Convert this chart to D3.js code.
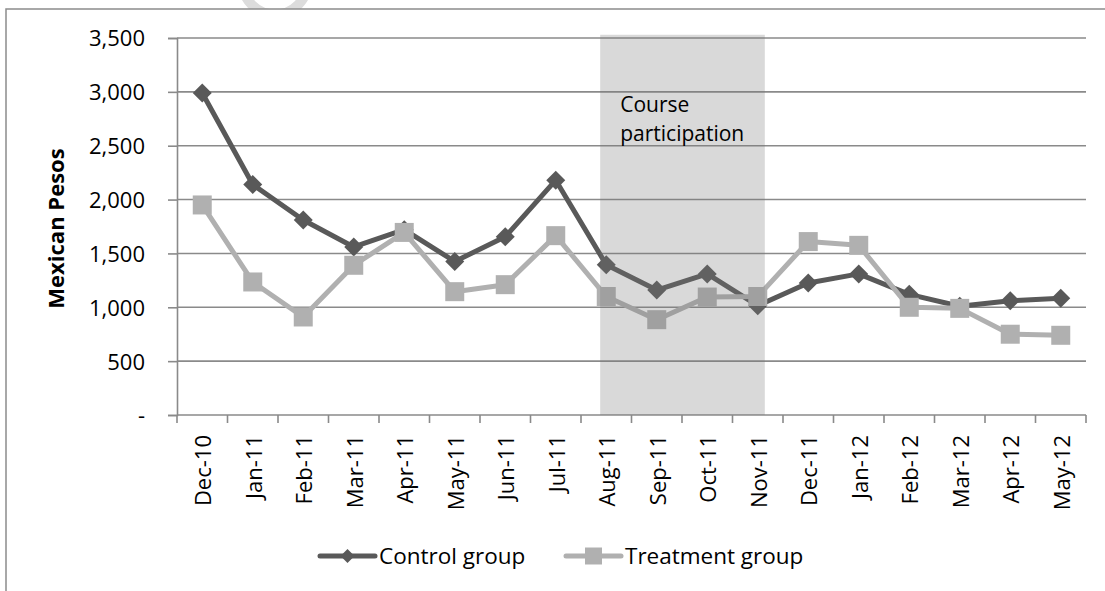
<!DOCTYPE html>
<html><head><meta charset="utf-8">
<script src="https://cdn.jsdelivr.net/npm/d3@7"></script>
<style>
body{margin:0;background:#fff}
svg{display:block}
text{font-family:"Open Sans",sans-serif;fill:#000}
</style>
</head><body>
<svg id="chart" width="1105" height="591"></svg>
<script>
// ---- data ----
const categories = ["Dec-10","Jan-11","Feb-11","Mar-11","Apr-11","May-11","Jun-11","Jul-11","Aug-11","Sep-11","Oct-11","Nov-11","Dec-11","Jan-12","Feb-12","Mar-12","Apr-12","May-12"];
const controlGroup = [2990,2140,1810,1560,1720,1425,1655,2180,1395,1160,1310,1015,1225,1310,1120,1010,1060,1085];
const treatmentGroup = [1950,1235,910,1390,1695,1145,1210,1665,1100,885,1095,1100,1610,1575,1000,990,750,740];
const yTicks = [0,500,1000,1500,2000,2500,3000,3500];
const seriesNames = ["Control group","Treatment group"];
const yTitle = "Mexican Pesos";
const courseLabel = ["Course","participation"];
const courseSpan = [8.38, 11.64];   // in category units
const courseTop = 3530;

// ---- layout ----
const W = 1105, H = 591;
const L = 177, R = 1086, T = 38, B = 415;
const svg = d3.select("#chart");

const x = d3.scaleBand().domain(categories).range([L, R]).padding(0);
const xi = d3.scaleLinear().domain([0, categories.length]).range([L, R]);
const y = d3.scaleLinear().domain([0, 3500]).range([B, T]);

// watermark ring (mostly hidden behind chart area)
svg.append("circle").attr("cx", 275).attr("cy", -18).attr("r", 32.5)
  .attr("fill", "none").attr("stroke", "#dcdcdc").attr("stroke-width", 10);

// chart frame
svg.append("rect").attr("x", 6).attr("y", 9).attr("width", W + 20).attr("height", H + 20)
  .attr("fill", "#fff").attr("stroke", "#8c8c8c").attr("stroke-width", 1.5);

// gridlines
svg.append("g").selectAll("line").data(yTicks.filter(d => d > 0)).join("line")
  .attr("x1", L).attr("x2", R).attr("y1", d => y(d)).attr("y2", d => y(d))
  .attr("stroke", "#8a8a8a").attr("stroke-width", 1.6);

// y axis
const yAxis = svg.append("g").attr("transform", `translate(${L},0)`)
  .call(d3.axisLeft(y).tickValues(yTicks).tickSize(9).tickPadding(23)
    .tickFormat(d => d === 0 ? "-" : d3.format(",")(d)));
yAxis.select(".domain").attr("stroke", "#8a8a8a").attr("stroke-width", 1.6);
yAxis.selectAll(".tick line").attr("stroke", "#8a8a8a").attr("stroke-width", 1.6);
yAxis.selectAll(".tick text").attr("font-size", 22).attr("dy", "0.36em")
  .style("font-family", '"Open Sans",sans-serif').attr("fill", "#000");

// x axis line and boundary ticks
const xAxis = svg.append("g");
xAxis.append("line").attr("x1", L).attr("x2", R).attr("y1", B).attr("y2", B)
  .attr("stroke", "#8a8a8a").attr("stroke-width", 1.6);
xAxis.selectAll("line.tk").data(d3.range(categories.length + 1)).join("line")
  .attr("class", "tk")
  .attr("x1", d => xi(d)).attr("x2", d => xi(d)).attr("y1", B).attr("y2", B + 8)
  .attr("stroke", "#8a8a8a").attr("stroke-width", 1.6);
xAxis.selectAll("text").data(categories).join("text")
  .attr("transform", d => `translate(${x(d) + x.bandwidth() / 2 + 1},${B + 20}) rotate(-90)`)
  .attr("text-anchor", "end").attr("dy", "0.36em").attr("font-size", 22)
  .text(d => d);

// y title
svg.append("text")
  .attr("transform", `translate(56,${(T + B) / 2 + 2}) rotate(-90)`)
  .attr("text-anchor", "middle").attr("dy", "0.36em")
  .attr("font-size", 22).attr("font-weight", "bold").text(yTitle);

// marker shapes
const diamondPath = (cx, cy, r) => `M${cx},${cy - r}L${cx + r},${cy}L${cx},${cy + r}L${cx - r},${cy}Z`;
const squarePath = (cx, cy, h) => `M${cx - h},${cy - h}H${cx + h}V${cy + h}H${cx - h}Z`;

const cx = (i) => x(categories[i]) + x.bandwidth() / 2;
const line = d3.line().x((d, i) => cx(i)).y(d => y(d));

const ctrlColor = "#595959", trtColor = "#b0b0b0";

// control series
svg.append("path").datum(controlGroup).attr("d", line)
  .attr("fill", "none").attr("stroke", ctrlColor).attr("stroke-width", 5).attr("stroke-linejoin", "round");
svg.append("g").selectAll("path").data(controlGroup).join("path")
  .attr("d", (d, i) => diamondPath(cx(i), y(d), 9.5)).attr("fill", ctrlColor);

// treatment series
svg.append("path").datum(treatmentGroup).attr("d", line)
  .attr("fill", "none").attr("stroke", trtColor).attr("stroke-width", 5).attr("stroke-linejoin", "round");
svg.append("g").selectAll("path").data(treatmentGroup).join("path")
  .attr("d", (d, i) => squarePath(cx(i), y(d), 9.5)).attr("fill", trtColor);

// course participation shading (translucent overlay)
svg.append("rect")
  .attr("x", xi(courseSpan[0])).attr("width", xi(courseSpan[1]) - xi(courseSpan[0]))
  .attr("y", y(courseTop)).attr("height", y(0) - y(courseTop))
  .attr("fill", "#777").attr("fill-opacity", 0.28);

svg.append("text").attr("x", xi(courseSpan[0]) + 20).attr("y", 112).attr("font-size", 21)
  .selectAll("tspan").data(courseLabel).join("tspan")
  .attr("x", xi(courseSpan[0]) + 20).attr("dy", (d, i) => i === 0 ? 0 : 28.5).text(d => d);

// legend
const lg = svg.append("g");
const legendY = 556;
const legendItems = [
  {name: seriesNames[0], x0: 320, x1: 375, color: ctrlColor, shape: "diamond"},
  {name: seriesNames[1], x0: 566, x1: 621, color: trtColor, shape: "square"}
];
legendItems.forEach(it => {
  lg.append("line").attr("x1", it.x0).attr("x2", it.x1).attr("y1", legendY).attr("y2", legendY)
    .attr("stroke", it.color).attr("stroke-width", 5).attr("stroke-linecap", "round");
  const mx = (it.x0 + it.x1) / 2;
  lg.append("path").attr("d", it.shape === "diamond" ? diamondPath(mx, legendY, 7) : squarePath(mx, legendY, 8.5))
    .attr("fill", it.color);
  lg.append("text").attr("x", it.x1 + 4).attr("y", legendY).attr("dy", "0.36em")
    .attr("font-size", 22.5).text(it.name);
});
</script>
</body></html>
